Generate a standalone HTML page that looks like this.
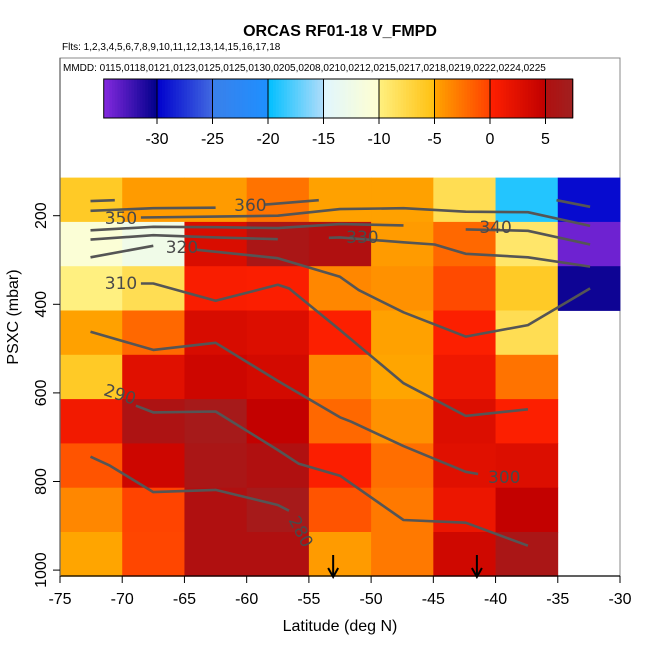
<!DOCTYPE html>
<html><head><meta charset="utf-8">
<style>
html,body{margin:0;padding:0;background:#fff;}
svg{display:block;font-family:"Liberation Sans",sans-serif;}
</style></head>
<body>
<svg id="chart" width="650" height="650" viewBox="0 0 650 650" xmlns="http://www.w3.org/2000/svg">
<text x="340" y="36" font-size="16" font-weight="bold" text-anchor="middle">ORCAS RF01-18 V_FMPD</text>
<text x="62" y="50" font-size="10">Flts: 1,2,3,4,5,6,7,8,9,10,11,12,13,14,15,16,17,18</text>
<rect x="60" y="58" width="560" height="518" fill="none" stroke="#888" stroke-width="1"/>
<text x="63" y="71" font-size="10">MMDD: 0115,0118,0121,0123,0125,0125,0130,0205,0208,0210,0212,0215,0217,0218,0219,0222,0224,0225</text>
<g id="colorbar"></g>
<g id="cells"></g>
<g id="contours"></g>
<g id="arrows"></g>
<g id="axes"></g>
<text x="340" y="631" font-size="16" text-anchor="middle">Latitude (deg N)</text>
<text x="0" y="0" font-size="16" text-anchor="middle" transform="translate(18,317) rotate(-90)">PSXC (mbar)</text>
</svg>
<script>
const latEdges = [-75,-70,-65,-60,-55,-50,-45,-40,-35,-30];
const presEdges = [114,214,314,414,514,614,714,814,914,1014];
const cellValues = [
 [-6,-4.5,-4.5,-2.5,-4.8,-4.8,-8,-19,-29.5],
 [-10.6,-12.5,3,6,5,-4.5,-2,-9,-34],
 [-10,-8,0.5,0.3,-3.5,-4,-0.5,-6,-30.5],
 [-4.8,-2,3.2,2.8,0.2,-4.8,0.2,-8,null],
 [-6,2.5,4,3.5,-3.5,-5,1.2,-2.5,null],
 [1,5.5,6.5,4.8,-2,-4,2.8,0.2,null],
 [-1,4,6,5,0.3,-2.3,2.5,2.8,null],
 [-3.5,-0.2,5,6.5,-1,-2.8,1.5,4.8,null],
 [-5,-0.3,5,5,-4.5,-2.8,3.8,6,null]
];
const xTicks = [-75,-70,-65,-60,-55,-50,-45,-40,-35,-30];
const yTicks = [200,400,600,800,1000];
const cbTicks = [-30,-25,-20,-15,-10,-5,0,5];
const arrowLats = [-53.05,-41.5];
const contourNames = ['370','360','350','340','330','320','310','300','290','280','370b'];
// null entries break a line (gap for its label)
const contourLats = [
 [-72.55,-70.6],
 [-72.55,-67.5,-62.5,null,-58.5,-54.2],
 [-68.5,-62.5,-57.5,-52.5,-47.4,-42.4,-37.4,-32.4],
 [-72.55,-67.5,-62.5,-57.5,-52.5,-47.4,null,-42.4,-37.4,-32.4],
 [-72.55,-67.5,-62.5,-57.5,null,-53.4,-52.5,-47.4,-44.9,-42.4,-37.4,-32.4],
 [-72.55,-67.5,null,-64.0,-57.5,-52.5,-51.0,-47.4,-42.4,-37.4,-32.4],
 [-68.5,-67.5,-62.5,-57.5,-56.6,-52.5,-47.4,-42.4,-37.4],
 [-72.55,-67.5,-62.5,-57.5,-52.5,-51.6,-47.4,-42.4,-41.4],
 [-68.9,-67.5,-62.5,-57.5,-55.8,-52.5,-47.4,-42.4,-37.4],
 [-72.55,-71.0,-67.5,-62.5,-57.5,-56.6],
 [-35.1,-32.4]
];
const contourPres = [
 [167,165],
 [189,183,182,null,175,165],
 [204,202,200,185,183,191,192,223],
 [233,225,226,228,219,222,null,231,234,265],
 [254,244,249,253,null,250,249,260,265,286,294,315],
 [294,268,null,277,296,338,368,418,473,447,364],
 [353,353,392,356,364,458,578,652,637],
 [462,503,487,573,655,665,720,778,783],
 [629,644,642,729,760,787,887,893,945],
 [744,764,824,819,853,866],
 [165,180]
];
const labelText = ['360','350','340','330','320','310','300','290','280'];
const labelLat = [-59.7,-70.1,-40.0,-50.7,-65.2,-70.1,-39.3,-70.2,-55.7];
const labelPres = [178,207,228,250,273,354,792,605,914];
const labelRot = [0,0,0,0,0,0,0,18,62];

const NS='http://www.w3.org/2000/svg';
const X0=60,X1=620,PY0=215.7,PS=0.443;
const xs = lat => X0+(lat+75)*(X1-X0)/45;
const ys = p => PY0+(p-200)*PS;
const cbx = v => 490+v*11.1;
function mk(tag,attrs,parent){const e=document.createElementNS(NS,tag);for(const k in attrs)e.setAttribute(k,attrs[k]);parent.appendChild(e);return e;}
function hex(h){return [parseInt(h.slice(1,3),16),parseInt(h.slice(3,5),16),parseInt(h.slice(5,7),16)];}
const segs=[[-35,-30,'#8a2be2','#00008b'],[-30,-25,'#0000cd','#4169e1'],[-25,-20,'#3a80ea','#1e90ff'],[-20,-15,'#00bfff','#b0dcfa'],[-15,-10,'#e0f6ff','#ffffd0'],[-10,-5,'#fff080','#ffc010'],[-5,0,'#ffa500','#ff4000'],[0,5,'#ff2000','#c00000'],[5,7.5,'#b01010','#a02020']];
function color(v){
 let s=segs[0];
 for(const g of segs){if(v>=g[0])s=g;}
 let t=(v-s[0])/(s[1]-s[0]);t=Math.max(0,Math.min(1,t));
 const a=hex(s[2]),b=hex(s[3]);
 return 'rgb('+a.map((c,i)=>Math.round(c+(b[i]-c)*t)).join(',')+')';
}
const cb=document.getElementById('colorbar');
for(let v=-34.8;v<7.45;v+=0.25){
 const r=mk('rect',{x:cbx(v),y:79,width:11.1*0.25+0.6,height:39,fill:color(v+0.12)},cb);
 
 
}
const cbf=mk('rect',{x:cbx(-34.8),y:79,width:cbx(7.45)-cbx(-34.8),height:39,fill:'none',stroke:'#000','stroke-width':1},cb);


cbTicks.forEach(v=>{
 const l=mk('line',{x1:cbx(v),x2:cbx(v),y1:79,y2:124,stroke:'#000','stroke-width':1},cb);
 
 
 const t=mk('text',{x:cbx(v),y:144,'font-size':16,'text-anchor':'middle'},cb);
 t.textContent=String(v);
 
 
});
const cg=document.getElementById('cells');
cellValues.forEach((row,i)=>row.forEach((v,j)=>{
 if(v===null)return;
 const x=xs(latEdges[j]),y=ys(presEdges[i]);
 const r=mk('rect',{x:x,y:y,width:xs(latEdges[j+1])-x+0.4,height:ys(presEdges[i+1])-y+0.4,fill:color(v)},cg);
 
 
}));
const ct=document.getElementById('contours');
contourLats.forEach((lats,k)=>{
 let parts=[[]];
 lats.forEach((la,i)=>{
  if(la===null){parts.push([]);return;}
  parts[parts.length-1].push(xs(la).toFixed(1)+','+ys(contourPres[k][i]).toFixed(1));
 });
 parts.forEach(p=>{
  if(p.length<2)return;
  const pl=mk('polyline',{points:p.join(' '),fill:'none',stroke:'#555','stroke-width':2.6,'stroke-linejoin':'round'},ct);
  
  
 });
});
labelText.forEach((s,i)=>{
 const x=xs(labelLat[i]),y=ys(labelPres[i]);
 const t=mk('text',{x:x,y:y,'font-size':17,fill:'#4a4a4a','font-family':'DejaVu Sans, sans-serif','text-anchor':'middle','dominant-baseline':'central',transform:'rotate('+labelRot[i]+' '+x+' '+y+')'},ct);
 t.textContent=s;
 
 
});
const ag=document.getElementById('arrows');
arrowLats.forEach(la=>{
 const x=xs(la);
 const g=mk('g',{},ag);
 
 
 mk('line',{x1:x,x2:x,y1:555,y2:576,stroke:'#000','stroke-width':2},g);
 mk('polyline',{points:(x-5)+',568 '+x+',577 '+(x+5)+',568',fill:'none',stroke:'#000','stroke-width':2},g);
});
const ax=document.getElementById('axes');
const la1=mk('line',{x1:60,x2:620,y1:576,y2:576,stroke:'#000','stroke-width':1.3},ax);


const la2=mk('line',{x1:60,x2:60,y1:58,y2:576,stroke:'#666','stroke-width':1.3},ax);


xTicks.forEach(v=>{
 const x=xs(v);
 const l=mk('line',{x1:x,x2:x,y1:576,y2:583,stroke:'#000'},ax);
 
 
 const t=mk('text',{x:x,y:604,'font-size':16,'text-anchor':'middle'},ax);
 t.textContent=v;
 
 
});
yTicks.forEach(v=>{
 const y=ys(v);
 const l=mk('line',{x1:53,x2:60,y1:y,y2:y,stroke:'#000'},ax);
 
 
 const t=mk('text',{x:0,y:0,'font-size':16,'text-anchor':'middle',transform:'translate(46,'+y+') rotate(-90)'},ax);
 t.textContent=v;
 
 
});
</script>
</body></html>
